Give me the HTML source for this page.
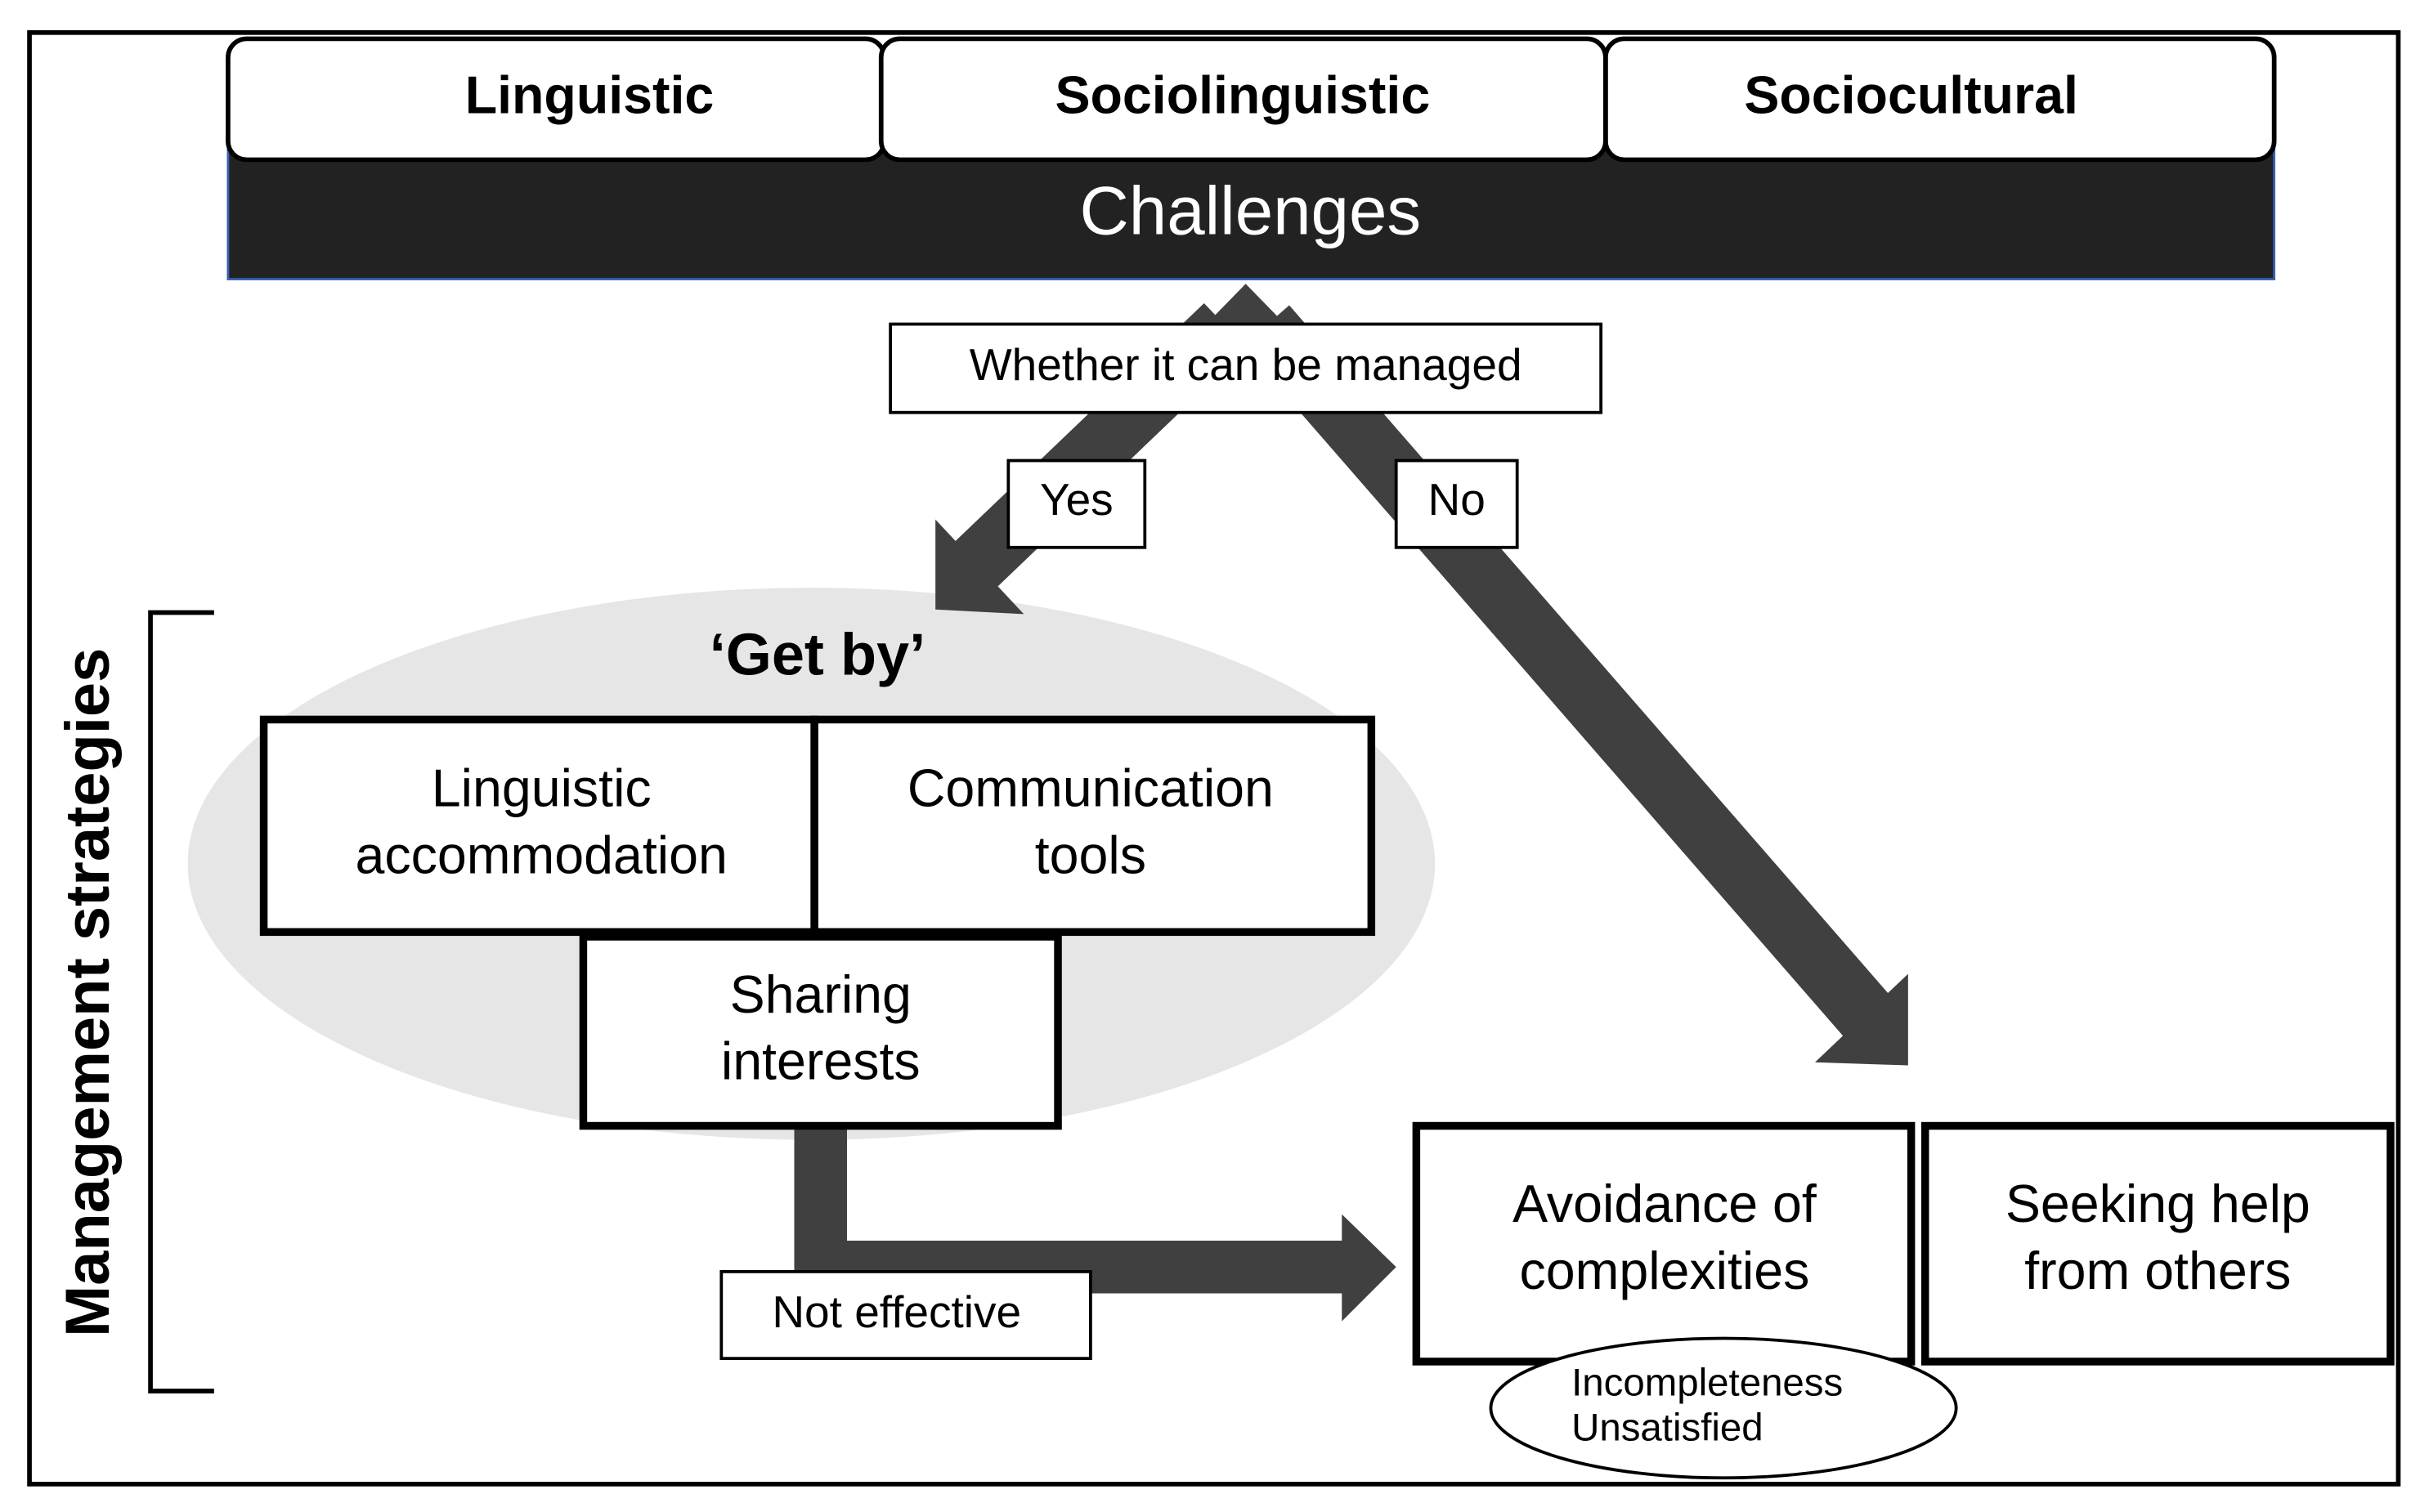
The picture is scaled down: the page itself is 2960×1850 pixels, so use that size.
<!DOCTYPE html>
<html><head><meta charset="utf-8"><style>
html,body{margin:0;padding:0;background:#fff;}
svg{display:block;}
text{font-family:"Liberation Sans","DejaVu Sans",sans-serif;fill:#000;}
</style></head><body>
<svg width="2960" height="1850" viewBox="0 0 1560 975" preserveAspectRatio="none" xmlns="http://www.w3.org/2000/svg">
<rect x="0" y="0" width="1560" height="975" fill="#fff"/>
<rect x="19" y="21" width="1527" height="936" fill="none" stroke="#000" stroke-width="3"/>

<!-- Challenges bar -->
<rect x="147" y="95" width="1319" height="85" fill="#222" stroke="#3a5fb0" stroke-width="1.5"/>
<text x="806" y="151" font-size="44" text-anchor="middle" style="fill:#fff">Challenges</text>

<!-- top boxes -->
<rect x="147" y="25" width="423" height="78" rx="12" fill="#fff" stroke="#000" stroke-width="3"/>
<rect x="1035" y="25" width="431" height="78" rx="12" fill="#fff" stroke="#000" stroke-width="3"/>
<rect x="568" y="25" width="467" height="78" rx="12" fill="#fff" stroke="#000" stroke-width="3"/>
<text x="380" y="73" font-size="34" font-weight="bold" text-anchor="middle">Linguistic</text>
<text x="801" y="73" font-size="34" font-weight="bold" text-anchor="middle">Sociolinguistic</text>
<text x="1232" y="73" font-size="34" font-weight="bold" text-anchor="middle">Sociocultural</text>

<!-- ellipse -->
<ellipse cx="523" cy="557" rx="402" ry="178" fill="#e6e6e6"/>

<!-- arrows -->
<g fill="#404040" stroke="none">
<polygon points="803,183 765,222 841,222"/>
<line x1="790" y1="210" x2="628" y2="365" stroke="#404040" stroke-width="40"/>
<polygon points="603,335 603,393 660,396"/>
<line x1="816" y1="210" x2="1205" y2="657" stroke="#404040" stroke-width="40"/>
<polygon points="1230,628 1230,687 1170,685"/>
<polygon points="512,728 546,728 546,800 865,800 865,783 900,817 865,852 865,834 512,834"/>
</g>

<rect x="574" y="209" width="458" height="57" fill="#fff" stroke="#000" stroke-width="2"/>
<text x="803" y="245" font-size="29" text-anchor="middle">Whether it can be managed</text>
<rect x="650" y="297" width="88" height="56" fill="#fff" stroke="#000" stroke-width="2"/>
<text x="694" y="332" font-size="29" text-anchor="middle">Yes</text>
<rect x="900" y="297" width="78" height="56" fill="#fff" stroke="#000" stroke-width="2"/>
<text x="939" y="332" font-size="29" text-anchor="middle">No</text>

<text x="527" y="435" font-size="38" font-weight="bold" text-anchor="middle">‘Get by’</text>

<rect x="170" y="464" width="355" height="137" fill="#fff" stroke="#000" stroke-width="5"/>
<rect x="525" y="464" width="359" height="137" fill="#fff" stroke="#000" stroke-width="5"/>
<text x="349" y="520" font-size="34" text-anchor="middle">Linguistic</text>
<text x="349" y="563" font-size="34" text-anchor="middle">accommodation</text>
<text x="703" y="520" font-size="34" text-anchor="middle">Communication</text>
<text x="703" y="563" font-size="34" text-anchor="middle">tools</text>

<rect x="376" y="604" width="306" height="122" fill="#fff" stroke="#000" stroke-width="5"/>
<text x="529" y="653" font-size="34" text-anchor="middle">Sharing</text>
<text x="529" y="696" font-size="34" text-anchor="middle">interests</text>

<rect x="465" y="820" width="238" height="56" fill="#fff" stroke="#000" stroke-width="2"/>
<text x="578" y="856" font-size="29" text-anchor="middle">Not effective</text>

<rect x="913" y="726" width="319" height="152" fill="#fff" stroke="#000" stroke-width="5"/>
<rect x="1241" y="726" width="300" height="152" fill="#fff" stroke="#000" stroke-width="5"/>
<text x="1073" y="788" font-size="34" text-anchor="middle">Avoidance of</text>
<text x="1073" y="831" font-size="34" text-anchor="middle">complexities</text>
<text x="1391" y="788" font-size="34" text-anchor="middle">Seeking help</text>
<text x="1391" y="831" font-size="34" text-anchor="middle">from others</text>

<ellipse cx="1111" cy="908" rx="150" ry="45" fill="#fff" stroke="#000" stroke-width="2"/>
<text x="1013" y="900" font-size="25">Incompleteness</text>
<text x="1013" y="929" font-size="25">Unsatisfied</text>

<!-- bracket -->
<path d="M138,395 L97,395 L97,897 L138,897" fill="none" stroke="#000" stroke-width="3"/>
<text transform="translate(70,640) rotate(-90)" font-size="40" font-weight="bold" text-anchor="middle">Management  strategies</text>
</svg>
</body></html>
